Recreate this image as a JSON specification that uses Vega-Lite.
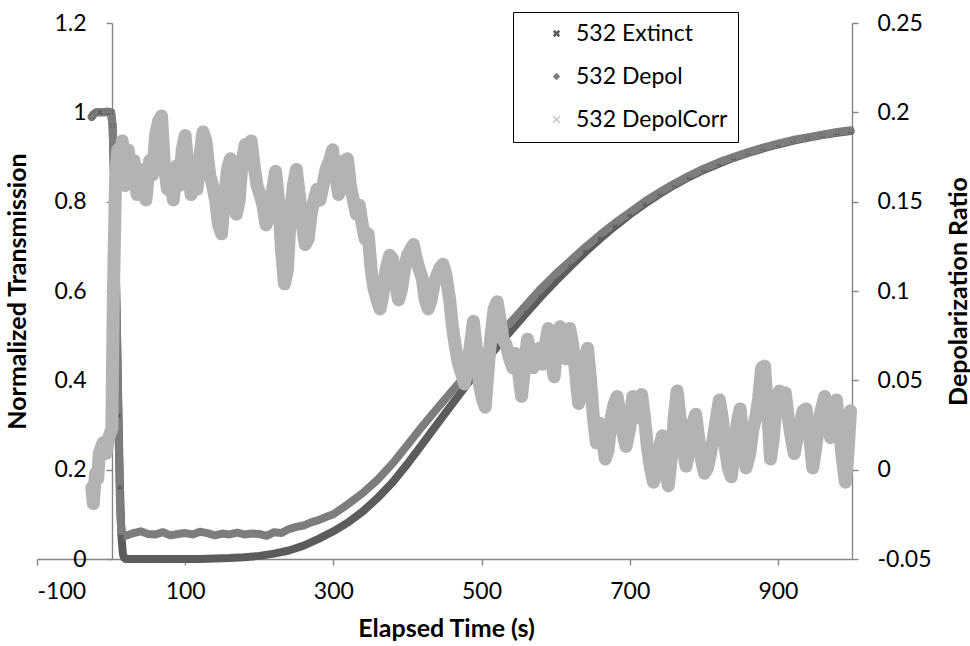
{
  "$schema": "https://vega.github.io/schema/vega-lite/v6.json",
  "width": 815,
  "height": 536,
  "autosize": {"type": "none"},
  "padding": {"left": 37, "top": 23, "right": 118, "bottom": 87},
  "background": "white",
  "config": {
    "view": {"stroke": null},
    "font": "Lato",
    "axis": {
      "domainColor": "#868686", "tickColor": "#868686", "domainWidth": 1.4, "tickWidth": 1.4,
      "grid": false, "tickSize": 6,
      "labelFont": "Lato", "labelFontSize": 23, "labelColor": "#000000",
      "titleFont": "Lato", "titleFontSize": 25, "titleFontWeight": "bold", "titleColor": "#000000"
    }
  },
  "data": {"values": [
    {"s":"532 Extinct","t":-26,"v":0.99},{"s":"532 Extinct","t":-24,"v":0.995},{"s":"532 Extinct","t":-20,"v":1},{"s":"532 Extinct","t":-15,"v":1},{"s":"532 Extinct","t":-10,"v":1},{"s":"532 Extinct","t":-5,"v":1},{"s":"532 Extinct","t":0,"v":1},{"s":"532 Extinct","t":2,"v":0.97},{"s":"532 Extinct","t":4,"v":0.85},{"s":"532 Extinct","t":6,"v":0.68},{"s":"532 Extinct","t":8,"v":0.5},{"s":"532 Extinct","t":10,"v":0.32},{"s":"532 Extinct","t":12,"v":0.16},{"s":"532 Extinct","t":14,"v":0.05},{"s":"532 Extinct","t":16,"v":0.01},{"s":"532 Extinct","t":18,"v":0.002},{"s":"532 Extinct","t":20,"v":0},{"s":"532 Extinct","t":40,"v":0},{"s":"532 Extinct","t":60,"v":0},{"s":"532 Extinct","t":80,"v":0},{"s":"532 Extinct","t":100,"v":0},{"s":"532 Extinct","t":120,"v":0},{"s":"532 Extinct","t":140,"v":0.001},{"s":"532 Extinct","t":160,"v":0.002},{"s":"532 Extinct","t":180,"v":0.004},{"s":"532 Extinct","t":200,"v":0.007},{"s":"532 Extinct","t":220,"v":0.012},{"s":"532 Extinct","t":240,"v":0.019},{"s":"532 Extinct","t":260,"v":0.03},{"s":"532 Extinct","t":280,"v":0.045},{"s":"532 Extinct","t":300,"v":0.062},{"s":"532 Extinct","t":320,"v":0.082},{"s":"532 Extinct","t":340,"v":0.107},{"s":"532 Extinct","t":360,"v":0.137},{"s":"532 Extinct","t":380,"v":0.172},{"s":"532 Extinct","t":400,"v":0.213},{"s":"532 Extinct","t":420,"v":0.257},{"s":"532 Extinct","t":440,"v":0.302},{"s":"532 Extinct","t":460,"v":0.346},{"s":"532 Extinct","t":480,"v":0.39},{"s":"532 Extinct","t":500,"v":0.432},{"s":"532 Extinct","t":520,"v":0.473},{"s":"532 Extinct","t":540,"v":0.512},{"s":"532 Extinct","t":560,"v":0.55},{"s":"532 Extinct","t":580,"v":0.587},{"s":"532 Extinct","t":600,"v":0.622},{"s":"532 Extinct","t":620,"v":0.655},{"s":"532 Extinct","t":640,"v":0.687},{"s":"532 Extinct","t":660,"v":0.717},{"s":"532 Extinct","t":680,"v":0.745},{"s":"532 Extinct","t":700,"v":0.771},{"s":"532 Extinct","t":720,"v":0.795},{"s":"532 Extinct","t":740,"v":0.817},{"s":"532 Extinct","t":760,"v":0.837},{"s":"532 Extinct","t":780,"v":0.855},{"s":"532 Extinct","t":800,"v":0.871},{"s":"532 Extinct","t":820,"v":0.885},{"s":"532 Extinct","t":840,"v":0.898},{"s":"532 Extinct","t":860,"v":0.909},{"s":"532 Extinct","t":880,"v":0.919},{"s":"532 Extinct","t":900,"v":0.928},{"s":"532 Extinct","t":920,"v":0.936},{"s":"532 Extinct","t":940,"v":0.943},{"s":"532 Extinct","t":960,"v":0.949},{"s":"532 Extinct","t":980,"v":0.954},{"s":"532 Extinct","t":998,"v":0.958},
    {"s":"532 Depol","t":-26,"v":0.99},{"s":"532 Depol","t":-24,"v":0.995},{"s":"532 Depol","t":-20,"v":1},{"s":"532 Depol","t":-10,"v":1},{"s":"532 Depol","t":-5,"v":1.002},{"s":"532 Depol","t":0,"v":1},{"s":"532 Depol","t":2,"v":0.97},{"s":"532 Depol","t":4,"v":0.85},{"s":"532 Depol","t":6,"v":0.68},{"s":"532 Depol","t":8,"v":0.5},{"s":"532 Depol","t":10,"v":0.3},{"s":"532 Depol","t":11,"v":0.2},{"s":"532 Depol","t":12,"v":0.12},{"s":"532 Depol","t":13,"v":0.08},{"s":"532 Depol","t":15,"v":0.058},{"s":"532 Depol","t":20,"v":0.052},{"s":"532 Depol","t":30,"v":0.058},{"s":"532 Depol","t":40,"v":0.062},{"s":"532 Depol","t":50,"v":0.056},{"s":"532 Depol","t":60,"v":0.055},{"s":"532 Depol","t":70,"v":0.06},{"s":"532 Depol","t":80,"v":0.053},{"s":"532 Depol","t":90,"v":0.056},{"s":"532 Depol","t":100,"v":0.058},{"s":"532 Depol","t":110,"v":0.055},{"s":"532 Depol","t":120,"v":0.061},{"s":"532 Depol","t":130,"v":0.058},{"s":"532 Depol","t":140,"v":0.053},{"s":"532 Depol","t":150,"v":0.057},{"s":"532 Depol","t":160,"v":0.055},{"s":"532 Depol","t":170,"v":0.059},{"s":"532 Depol","t":180,"v":0.055},{"s":"532 Depol","t":190,"v":0.057},{"s":"532 Depol","t":200,"v":0.056},{"s":"532 Depol","t":210,"v":0.052},{"s":"532 Depol","t":220,"v":0.06},{"s":"532 Depol","t":230,"v":0.058},{"s":"532 Depol","t":240,"v":0.067},{"s":"532 Depol","t":250,"v":0.072},{"s":"532 Depol","t":260,"v":0.075},{"s":"532 Depol","t":270,"v":0.082},{"s":"532 Depol","t":280,"v":0.087},{"s":"532 Depol","t":290,"v":0.094},{"s":"532 Depol","t":300,"v":0.1},{"s":"532 Depol","t":320,"v":0.123},{"s":"532 Depol","t":340,"v":0.148},{"s":"532 Depol","t":360,"v":0.178},{"s":"532 Depol","t":380,"v":0.214},{"s":"532 Depol","t":400,"v":0.255},{"s":"532 Depol","t":420,"v":0.297},{"s":"532 Depol","t":440,"v":0.337},{"s":"532 Depol","t":460,"v":0.376},{"s":"532 Depol","t":480,"v":0.414},{"s":"532 Depol","t":500,"v":0.452},{"s":"532 Depol","t":520,"v":0.492},{"s":"532 Depol","t":540,"v":0.531},{"s":"532 Depol","t":560,"v":0.568},{"s":"532 Depol","t":580,"v":0.605},{"s":"532 Depol","t":600,"v":0.638},{"s":"532 Depol","t":620,"v":0.668},{"s":"532 Depol","t":640,"v":0.698},{"s":"532 Depol","t":660,"v":0.726},{"s":"532 Depol","t":680,"v":0.752},{"s":"532 Depol","t":700,"v":0.776},{"s":"532 Depol","t":720,"v":0.8},{"s":"532 Depol","t":740,"v":0.821},{"s":"532 Depol","t":760,"v":0.84},{"s":"532 Depol","t":780,"v":0.858},{"s":"532 Depol","t":800,"v":0.874},{"s":"532 Depol","t":820,"v":0.888},{"s":"532 Depol","t":840,"v":0.9},{"s":"532 Depol","t":860,"v":0.911},{"s":"532 Depol","t":880,"v":0.921},{"s":"532 Depol","t":900,"v":0.93},{"s":"532 Depol","t":920,"v":0.938},{"s":"532 Depol","t":940,"v":0.944},{"s":"532 Depol","t":960,"v":0.95},{"s":"532 Depol","t":980,"v":0.956},{"s":"532 Depol","t":998,"v":0.96},
    {"s":"\u00a0532 DepolCorr","t":-26,"v":-0.010},{"s":"\u00a0532 DepolCorr","t":-24,"v":-0.019},{"s":"\u00a0532 DepolCorr","t":-21,"v":-0.002},{"s":"\u00a0532 DepolCorr","t":-18,"v":-0.005},{"s":"\u00a0532 DepolCorr","t":-16,"v":0.009},{"s":"\u00a0532 DepolCorr","t":-11,"v":0.015},{"s":"\u00a0532 DepolCorr","t":-7,"v":0.009},{"s":"\u00a0532 DepolCorr","t":-3,"v":0.018},{"s":"\u00a0532 DepolCorr","t":1,"v":0.023},{"s":"\u00a0532 DepolCorr","t":3,"v":0.095},{"s":"\u00a0532 DepolCorr","t":6,"v":0.162},{"s":"\u00a0532 DepolCorr","t":9,"v":0.179},
    {"s":"\u00a0532 DepolCorr","t":11,"v":0.170},{"s":"\u00a0532 DepolCorr","t":15,"v":0.184},{"s":"\u00a0532 DepolCorr","t":19,"v":0.159},{"s":"\u00a0532 DepolCorr","t":23,"v":0.179},{"s":"\u00a0532 DepolCorr","t":27,"v":0.165},{"s":"\u00a0532 DepolCorr","t":31,"v":0.173},{"s":"\u00a0532 DepolCorr","t":35,"v":0.154},{"s":"\u00a0532 DepolCorr","t":39,"v":0.168},{"s":"\u00a0532 DepolCorr","t":43,"v":0.162},{"s":"\u00a0532 DepolCorr","t":47,"v":0.151},
    {"s":"\u00a0532 DepolCorr","t":52,"v":0.173},{"s":"\u00a0532 DepolCorr","t":56,"v":0.165},{"s":"\u00a0532 DepolCorr","t":60,"v":0.187},{"s":"\u00a0532 DepolCorr","t":64,"v":0.195},{"s":"\u00a0532 DepolCorr","t":68,"v":0.198},{"s":"\u00a0532 DepolCorr","t":72,"v":0.170},{"s":"\u00a0532 DepolCorr","t":76,"v":0.157},{"s":"\u00a0532 DepolCorr","t":80,"v":0.165},{"s":"\u00a0532 DepolCorr","t":84,"v":0.151},{"s":"\u00a0532 DepolCorr","t":88,"v":0.170},
    {"s":"\u00a0532 DepolCorr","t":92,"v":0.159},{"s":"\u00a0532 DepolCorr","t":96,"v":0.179},{"s":"\u00a0532 DepolCorr","t":100,"v":0.187},{"s":"\u00a0532 DepolCorr","t":104,"v":0.168},{"s":"\u00a0532 DepolCorr","t":108,"v":0.154},{"s":"\u00a0532 DepolCorr","t":112,"v":0.165},{"s":"\u00a0532 DepolCorr","t":116,"v":0.157},{"s":"\u00a0532 DepolCorr","t":120,"v":0.176},{"s":"\u00a0532 DepolCorr","t":124,"v":0.189},{"s":"\u00a0532 DepolCorr","t":128,"v":0.184},
    {"s":"\u00a0532 DepolCorr","t":133,"v":0.165},{"s":"\u00a0532 DepolCorr","t":137,"v":0.159},{"s":"\u00a0532 DepolCorr","t":141,"v":0.151},{"s":"\u00a0532 DepolCorr","t":145,"v":0.137},{"s":"\u00a0532 DepolCorr","t":149,"v":0.132},{"s":"\u00a0532 DepolCorr","t":153,"v":0.151},{"s":"\u00a0532 DepolCorr","t":157,"v":0.168},{"s":"\u00a0532 DepolCorr","t":161,"v":0.174},{"s":"\u00a0532 DepolCorr","t":165,"v":0.157},{"s":"\u00a0532 DepolCorr","t":169,"v":0.143},
    {"s":"\u00a0532 DepolCorr","t":173,"v":0.151},{"s":"\u00a0532 DepolCorr","t":177,"v":0.173},{"s":"\u00a0532 DepolCorr","t":181,"v":0.182},{"s":"\u00a0532 DepolCorr","t":185,"v":0.179},{"s":"\u00a0532 DepolCorr","t":189,"v":0.184},{"s":"\u00a0532 DepolCorr","t":193,"v":0.170},{"s":"\u00a0532 DepolCorr","t":197,"v":0.159},{"s":"\u00a0532 DepolCorr","t":201,"v":0.154},{"s":"\u00a0532 DepolCorr","t":205,"v":0.148},{"s":"\u00a0532 DepolCorr","t":209,"v":0.137},
    {"s":"\u00a0532 DepolCorr","t":214,"v":0.143},{"s":"\u00a0532 DepolCorr","t":218,"v":0.157},{"s":"\u00a0532 DepolCorr","t":222,"v":0.167},{"s":"\u00a0532 DepolCorr","t":226,"v":0.151},{"s":"\u00a0532 DepolCorr","t":230,"v":0.123},{"s":"\u00a0532 DepolCorr","t":234,"v":0.104},{"s":"\u00a0532 DepolCorr","t":238,"v":0.112},{"s":"\u00a0532 DepolCorr","t":242,"v":0.143},{"s":"\u00a0532 DepolCorr","t":246,"v":0.159},{"s":"\u00a0532 DepolCorr","t":250,"v":0.168},
    {"s":"\u00a0532 DepolCorr","t":254,"v":0.154},{"s":"\u00a0532 DepolCorr","t":258,"v":0.137},{"s":"\u00a0532 DepolCorr","t":262,"v":0.126},{"s":"\u00a0532 DepolCorr","t":266,"v":0.129},{"s":"\u00a0532 DepolCorr","t":270,"v":0.143},{"s":"\u00a0532 DepolCorr","t":274,"v":0.151},{"s":"\u00a0532 DepolCorr","t":278,"v":0.157},{"s":"\u00a0532 DepolCorr","t":282,"v":0.151},{"s":"\u00a0532 DepolCorr","t":286,"v":0.159},{"s":"\u00a0532 DepolCorr","t":290,"v":0.168},
    {"s":"\u00a0532 DepolCorr","t":295,"v":0.173},{"s":"\u00a0532 DepolCorr","t":299,"v":0.179},{"s":"\u00a0532 DepolCorr","t":303,"v":0.165},{"s":"\u00a0532 DepolCorr","t":307,"v":0.154},{"s":"\u00a0532 DepolCorr","t":311,"v":0.159},{"s":"\u00a0532 DepolCorr","t":315,"v":0.173},{"s":"\u00a0532 DepolCorr","t":319,"v":0.174},{"s":"\u00a0532 DepolCorr","t":323,"v":0.159},{"s":"\u00a0532 DepolCorr","t":327,"v":0.151},{"s":"\u00a0532 DepolCorr","t":331,"v":0.143},
    {"s":"\u00a0532 DepolCorr","t":335,"v":0.148},{"s":"\u00a0532 DepolCorr","t":339,"v":0.137},{"s":"\u00a0532 DepolCorr","t":343,"v":0.129},{"s":"\u00a0532 DepolCorr","t":347,"v":0.132},{"s":"\u00a0532 DepolCorr","t":351,"v":0.112},{"s":"\u00a0532 DepolCorr","t":355,"v":0.101},{"s":"\u00a0532 DepolCorr","t":359,"v":0.095},{"s":"\u00a0532 DepolCorr","t":363,"v":0.090},{"s":"\u00a0532 DepolCorr","t":367,"v":0.098},{"s":"\u00a0532 DepolCorr","t":371,"v":0.112},
    {"s":"\u00a0532 DepolCorr","t":376,"v":0.120},{"s":"\u00a0532 DepolCorr","t":380,"v":0.118},{"s":"\u00a0532 DepolCorr","t":384,"v":0.104},{"s":"\u00a0532 DepolCorr","t":388,"v":0.095},{"s":"\u00a0532 DepolCorr","t":392,"v":0.101},{"s":"\u00a0532 DepolCorr","t":396,"v":0.112},{"s":"\u00a0532 DepolCorr","t":400,"v":0.120},{"s":"\u00a0532 DepolCorr","t":404,"v":0.123},{"s":"\u00a0532 DepolCorr","t":408,"v":0.126},{"s":"\u00a0532 DepolCorr","t":412,"v":0.118},
    {"s":"\u00a0532 DepolCorr","t":416,"v":0.112},{"s":"\u00a0532 DepolCorr","t":420,"v":0.107},{"s":"\u00a0532 DepolCorr","t":424,"v":0.095},{"s":"\u00a0532 DepolCorr","t":428,"v":0.090},{"s":"\u00a0532 DepolCorr","t":432,"v":0.095},{"s":"\u00a0532 DepolCorr","t":436,"v":0.104},{"s":"\u00a0532 DepolCorr","t":440,"v":0.109},{"s":"\u00a0532 DepolCorr","t":444,"v":0.113},{"s":"\u00a0532 DepolCorr","t":448,"v":0.115},{"s":"\u00a0532 DepolCorr","t":452,"v":0.109},
    {"s":"\u00a0532 DepolCorr","t":457,"v":0.095},{"s":"\u00a0532 DepolCorr","t":461,"v":0.079},{"s":"\u00a0532 DepolCorr","t":465,"v":0.068},{"s":"\u00a0532 DepolCorr","t":469,"v":0.059},{"s":"\u00a0532 DepolCorr","t":473,"v":0.054},{"s":"\u00a0532 DepolCorr","t":477,"v":0.048},{"s":"\u00a0532 DepolCorr","t":481,"v":0.057},{"s":"\u00a0532 DepolCorr","t":485,"v":0.070},{"s":"\u00a0532 DepolCorr","t":489,"v":0.083},{"s":"\u00a0532 DepolCorr","t":493,"v":0.068},
    {"s":"\u00a0532 DepolCorr","t":497,"v":0.048},{"s":"\u00a0532 DepolCorr","t":501,"v":0.040},{"s":"\u00a0532 DepolCorr","t":505,"v":0.035},{"s":"\u00a0532 DepolCorr","t":509,"v":0.057},{"s":"\u00a0532 DepolCorr","t":513,"v":0.076},{"s":"\u00a0532 DepolCorr","t":517,"v":0.090},{"s":"\u00a0532 DepolCorr","t":521,"v":0.094},{"s":"\u00a0532 DepolCorr","t":525,"v":0.084},{"s":"\u00a0532 DepolCorr","t":529,"v":0.073},{"s":"\u00a0532 DepolCorr","t":533,"v":0.070},
    {"s":"\u00a0532 DepolCorr","t":538,"v":0.062},{"s":"\u00a0532 DepolCorr","t":542,"v":0.057},{"s":"\u00a0532 DepolCorr","t":546,"v":0.065},{"s":"\u00a0532 DepolCorr","t":550,"v":0.054},{"s":"\u00a0532 DepolCorr","t":554,"v":0.041},{"s":"\u00a0532 DepolCorr","t":558,"v":0.057},{"s":"\u00a0532 DepolCorr","t":562,"v":0.073},{"s":"\u00a0532 DepolCorr","t":566,"v":0.065},{"s":"\u00a0532 DepolCorr","t":570,"v":0.057},{"s":"\u00a0532 DepolCorr","t":574,"v":0.062},
    {"s":"\u00a0532 DepolCorr","t":578,"v":0.068},{"s":"\u00a0532 DepolCorr","t":582,"v":0.059},{"s":"\u00a0532 DepolCorr","t":586,"v":0.070},{"s":"\u00a0532 DepolCorr","t":590,"v":0.079},{"s":"\u00a0532 DepolCorr","t":594,"v":0.062},{"s":"\u00a0532 DepolCorr","t":598,"v":0.052},{"s":"\u00a0532 DepolCorr","t":602,"v":0.070},{"s":"\u00a0532 DepolCorr","t":606,"v":0.080},{"s":"\u00a0532 DepolCorr","t":610,"v":0.076},{"s":"\u00a0532 DepolCorr","t":614,"v":0.062},
    {"s":"\u00a0532 DepolCorr","t":619,"v":0.079},{"s":"\u00a0532 DepolCorr","t":623,"v":0.070},{"s":"\u00a0532 DepolCorr","t":627,"v":0.054},{"s":"\u00a0532 DepolCorr","t":631,"v":0.037},{"s":"\u00a0532 DepolCorr","t":635,"v":0.043},{"s":"\u00a0532 DepolCorr","t":639,"v":0.062},{"s":"\u00a0532 DepolCorr","t":643,"v":0.068},{"s":"\u00a0532 DepolCorr","t":647,"v":0.051},{"s":"\u00a0532 DepolCorr","t":651,"v":0.029},{"s":"\u00a0532 DepolCorr","t":655,"v":0.015},
    {"s":"\u00a0532 DepolCorr","t":659,"v":0.026},{"s":"\u00a0532 DepolCorr","t":663,"v":0.018},{"s":"\u00a0532 DepolCorr","t":667,"v":0.006},{"s":"\u00a0532 DepolCorr","t":671,"v":0.011},{"s":"\u00a0532 DepolCorr","t":675,"v":0.029},{"s":"\u00a0532 DepolCorr","t":679,"v":0.037},{"s":"\u00a0532 DepolCorr","t":683,"v":0.041},{"s":"\u00a0532 DepolCorr","t":687,"v":0.031},{"s":"\u00a0532 DepolCorr","t":691,"v":0.020},{"s":"\u00a0532 DepolCorr","t":695,"v":0.013},
    {"s":"\u00a0532 DepolCorr","t":700,"v":0.023},{"s":"\u00a0532 DepolCorr","t":704,"v":0.041},{"s":"\u00a0532 DepolCorr","t":708,"v":0.034},{"s":"\u00a0532 DepolCorr","t":712,"v":0.029},{"s":"\u00a0532 DepolCorr","t":716,"v":0.042},{"s":"\u00a0532 DepolCorr","t":720,"v":0.029},{"s":"\u00a0532 DepolCorr","t":724,"v":0.012},{"s":"\u00a0532 DepolCorr","t":728,"v":0.001},{"s":"\u00a0532 DepolCorr","t":732,"v":-0.007},{"s":"\u00a0532 DepolCorr","t":736,"v":-0.002},
    {"s":"\u00a0532 DepolCorr","t":740,"v":0.012},{"s":"\u00a0532 DepolCorr","t":744,"v":0.019},{"s":"\u00a0532 DepolCorr","t":748,"v":0.001},{"s":"\u00a0532 DepolCorr","t":752,"v":-0.009},{"s":"\u00a0532 DepolCorr","t":756,"v":0.006},{"s":"\u00a0532 DepolCorr","t":760,"v":0.029},{"s":"\u00a0532 DepolCorr","t":764,"v":0.044},{"s":"\u00a0532 DepolCorr","t":768,"v":0.029},{"s":"\u00a0532 DepolCorr","t":772,"v":0.012},{"s":"\u00a0532 DepolCorr","t":776,"v":0.002},
    {"s":"\u00a0532 DepolCorr","t":781,"v":0.012},{"s":"\u00a0532 DepolCorr","t":785,"v":0.026},{"s":"\u00a0532 DepolCorr","t":789,"v":0.031},{"s":"\u00a0532 DepolCorr","t":793,"v":0.018},{"s":"\u00a0532 DepolCorr","t":797,"v":0.005},{"s":"\u00a0532 DepolCorr","t":801,"v":-0.002},{"s":"\u00a0532 DepolCorr","t":805,"v":0.001},{"s":"\u00a0532 DepolCorr","t":809,"v":0.009},{"s":"\u00a0532 DepolCorr","t":813,"v":0.018},{"s":"\u00a0532 DepolCorr","t":817,"v":0.029},
    {"s":"\u00a0532 DepolCorr","t":821,"v":0.039},{"s":"\u00a0532 DepolCorr","t":825,"v":0.029},{"s":"\u00a0532 DepolCorr","t":829,"v":0.012},{"s":"\u00a0532 DepolCorr","t":833,"v":0.001},{"s":"\u00a0532 DepolCorr","t":837,"v":-0.004},{"s":"\u00a0532 DepolCorr","t":841,"v":0.009},{"s":"\u00a0532 DepolCorr","t":845,"v":0.026},{"s":"\u00a0532 DepolCorr","t":849,"v":0.034},{"s":"\u00a0532 DepolCorr","t":853,"v":0.018},{"s":"\u00a0532 DepolCorr","t":857,"v":0.001},
    {"s":"\u00a0532 DepolCorr","t":862,"v":0.009},{"s":"\u00a0532 DepolCorr","t":866,"v":0.022},{"s":"\u00a0532 DepolCorr","t":870,"v":0.029},{"s":"\u00a0532 DepolCorr","t":874,"v":0.040},{"s":"\u00a0532 DepolCorr","t":878,"v":0.057},{"s":"\u00a0532 DepolCorr","t":882,"v":0.058},{"s":"\u00a0532 DepolCorr","t":886,"v":0.034},{"s":"\u00a0532 DepolCorr","t":890,"v":0.006},{"s":"\u00a0532 DepolCorr","t":894,"v":0.018},{"s":"\u00a0532 DepolCorr","t":898,"v":0.040},
    {"s":"\u00a0532 DepolCorr","t":902,"v":0.044},{"s":"\u00a0532 DepolCorr","t":906,"v":0.034},{"s":"\u00a0532 DepolCorr","t":910,"v":0.043},{"s":"\u00a0532 DepolCorr","t":914,"v":0.029},{"s":"\u00a0532 DepolCorr","t":918,"v":0.018},{"s":"\u00a0532 DepolCorr","t":922,"v":0.009},{"s":"\u00a0532 DepolCorr","t":926,"v":0.018},{"s":"\u00a0532 DepolCorr","t":930,"v":0.026},{"s":"\u00a0532 DepolCorr","t":934,"v":0.033},{"s":"\u00a0532 DepolCorr","t":938,"v":0.034},
    {"s":"\u00a0532 DepolCorr","t":943,"v":0.018},{"s":"\u00a0532 DepolCorr","t":947,"v":0.001},{"s":"\u00a0532 DepolCorr","t":951,"v":0.012},{"s":"\u00a0532 DepolCorr","t":955,"v":0.026},{"s":"\u00a0532 DepolCorr","t":959,"v":0.034},{"s":"\u00a0532 DepolCorr","t":963,"v":0.041},{"s":"\u00a0532 DepolCorr","t":967,"v":0.029},{"s":"\u00a0532 DepolCorr","t":971,"v":0.018},{"s":"\u00a0532 DepolCorr","t":975,"v":0.031},{"s":"\u00a0532 DepolCorr","t":979,"v":0.039},
    {"s":"\u00a0532 DepolCorr","t":983,"v":0.023},{"s":"\u00a0532 DepolCorr","t":987,"v":0.006},{"s":"\u00a0532 DepolCorr","t":991,"v":-0.007},{"s":"\u00a0532 DepolCorr","t":995,"v":0.012},{"s":"\u00a0532 DepolCorr","t":998,"v":0.033}
  ]},
  "encoding": {
    "x": {
      "field": "t", "type": "quantitative",
      "scale": {"domain": [-100, 1000], "nice": false, "zero": false},
      "axis": {
        "values": [-100, 100, 300, 500, 700, 900],
        "labelExpr": "'' + datum.value",
        "labelPadding": 15,
        "title": "Elapsed Time (s)",
        "titleX": 409, "titleY": 69, "titleBaseline": "middle", "titleAlign": "center", "titleAnchor": null
      }
    }
  },
  "layer": [
    {
      "encoding": {
        "y": {
          "field": "v", "type": "quantitative",
          "scale": {"domain": [0, 1.2], "nice": false, "zero": false},
          "axis": {
            "values": [0, 0.2, 0.4, 0.6, 0.8, 1, 1.2],
            "labelExpr": "'' + datum.value",
            "offset": -75,
            "labelPadding": 20,
            "title": "Normalized Transmission",
            "titleX": -95, "titleY": 268, "titleAngle": -90, "titleBaseline": "middle", "titleAlign": "center", "titleAnchor": null
          }
        }
      },
      "layer": [
        {
          "transform": [{"filter": "datum.s == '532 Extinct'"}],
          "mark": {"type": "line", "color": "#5c5c5c", "strokeWidth": 8, "strokeJoin": "round", "strokeCap": "round"},
          "encoding": {}
        },
        {
          "transform": [{"filter": "datum.s == '532 Depol'"}],
          "mark": {"type": "line", "color": "#7d7d7d", "strokeWidth": 8, "strokeJoin": "round", "strokeCap": "round"},
          "encoding": {}
        },
        {
          "transform": [{"filter": "datum.s == '532 Extinct' || datum.s == '532 Depol'"}],
          "mark": {"type": "point", "filled": true, "size": 26, "opacity": 1},
          "encoding": {
            "color": {
              "field": "s", "type": "nominal",
              "scale": {"domain": ["532 Extinct", "532 Depol", "\u00a0532 DepolCorr"], "range": ["#5c5c5c", "#7d7d7d", "#b3b3b3"]},
              "legend": {
                "orient": "none", "legendX": 476, "legendY": -11,
                "title": null, "padding": 10, "strokeColor": "#000000", "fillColor": "#ffffff",
                "symbolOffset": 22, "rowPadding": 19, "labelFont": "Lato", "labelFontSize": 23, "labelColor": "#000000",
                "labelOffset": 8, "symbolSize": 55, "symbolOpacity": 1, "symbolStrokeWidth": 0,
                "labelExpr": "datum.label + '  '"
              }
            },
            "shape": {
              "field": "s", "type": "nominal",
              "scale": {"domain": ["532 Extinct", "532 Depol", "\u00a0532 DepolCorr"], "range": ["M-1,-0.5L-0.5,-1L0,-0.5L0.5,-1L1,-0.5L0.5,0L1,0.5L0.5,1L0,0.5L-0.5,1L-1,0.5L-0.5,0Z", "diamond", "M-1,-0.8L-0.8,-1L0,-0.2L0.8,-1L1,-0.8L0.2,0L1,0.8L0.8,1L0,0.2L-0.8,1L-1,0.8L-0.2,0Z"]}
            }
          }
        }
      ]
    },
    {
      "transform": [{"filter": "datum.s != '532 Extinct' && datum.s != '532 Depol'"}],
      "encoding": {
        "y": {
          "field": "v", "type": "quantitative",
          "scale": {"domain": [-0.05, 0.25], "nice": false, "zero": false},
          "axis": {
            "orient": "right",
            "values": [-0.05, 0, 0.05, 0.1, 0.15, 0.2, 0.25],
            "labelExpr": "'' + datum.value",
            "labelPadding": 19,
            "title": "Depolarization Ratio",
            "titleX": 106, "titleY": 268, "titleAngle": -90, "titleBaseline": "middle", "titleAlign": "center", "titleAnchor": null
          }
        }
      },
      "layer": [
        {
          "mark": {"type": "line", "color": "#b3b3b3", "strokeWidth": 13, "strokeJoin": "round", "strokeCap": "round"},
          "encoding": {}
        },
        {
          "mark": {"type": "point", "filled": true, "size": 70, "opacity": 1},
          "encoding": {
            "color": {"field": "s", "type": "nominal"},
            "shape": {"field": "s", "type": "nominal"}
          }
        }
      ]
    }
  ],
  "resolve": {"scale": {"y": "independent"}}
}
